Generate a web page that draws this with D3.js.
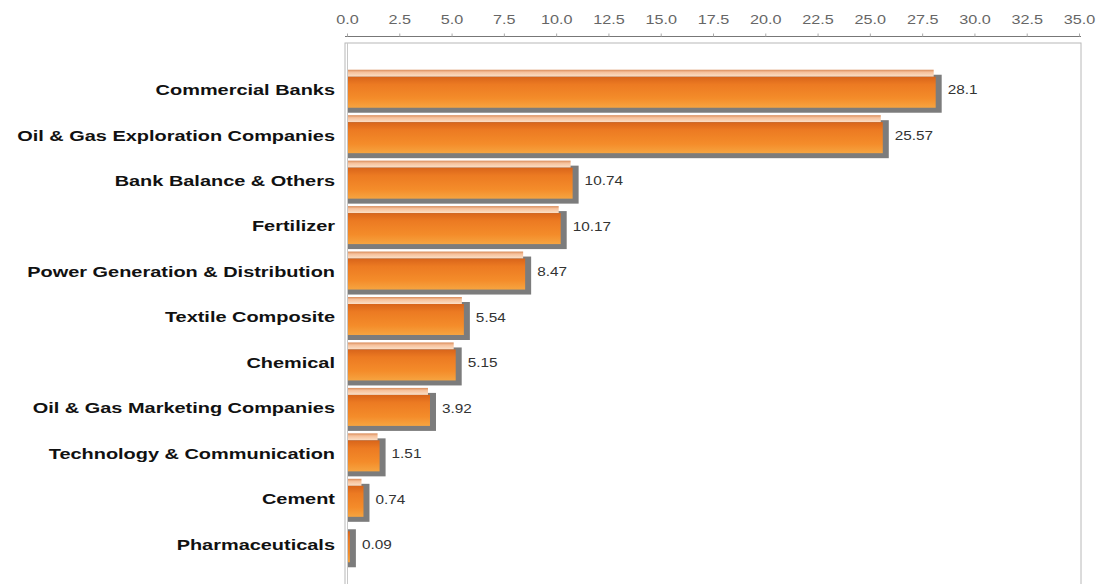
<!DOCTYPE html>
<html><head><meta charset="utf-8">
<script src="https://cdn.jsdelivr.net/npm/d3@7"></script>
<style>html,body{margin:0;padding:0;background:#fff;overflow:hidden}</style>
</head><body>
<svg id="chart" width="1101" height="584"></svg>
<script>
const categories = ["Commercial Banks","Oil & Gas Exploration Companies","Bank Balance & Others","Fertilizer","Power Generation & Distribution","Textile Composite","Chemical","Oil & Gas Marketing Companies","Technology & Communication","Cement","Pharmaceuticals"];
const values = [28.1,25.57,10.74,10.17,8.47,5.54,5.15,3.92,1.51,0.74,0.09];
const valueLabels = ["28.1","25.57","10.74","10.17","8.47","5.54","5.15","3.92","1.51","0.74","0.09"];
const tickValues = [0,2.5,5,7.5,10,12.5,15,17.5,20,22.5,25,27.5,30,32.5,35];

const svg = d3.select("#chart");
const x = d3.scaleLinear().domain([0,35]).range([347,1079]);
const y = d3.scaleBand().domain(categories).range([67,567]);

const defs = svg.append("defs");
const g1 = defs.append("linearGradient").attr("id","barGrad").attr("x1",0).attr("y1",0).attr("x2",0).attr("y2",1);
g1.append("stop").attr("offset","0%").attr("stop-color","#d8641a");
g1.append("stop").attr("offset","25%").attr("stop-color","#ec7a22");
g1.append("stop").attr("offset","70%").attr("stop-color","#f48c2a");
g1.append("stop").attr("offset","100%").attr("stop-color","#f6a440");
const g2 = defs.append("linearGradient").attr("id","topGrad").attr("x1",0).attr("y1",0).attr("x2",0).attr("y2",1);
g2.append("stop").attr("offset","0%").attr("stop-color","#d88a58");
g2.append("stop").attr("offset","35%").attr("stop-color","#f6c09a");
g2.append("stop").attr("offset","100%").attr("stop-color","#fbe0c8");

// plot box
svg.append("rect").attr("x",345).attr("y",43).attr("width",736).attr("height",560)
  .attr("fill","none").attr("stroke","#b8b8b8").attr("stroke-width",1);
svg.append("line").attr("x1",347.5).attr("x2",347.5).attr("y1",43).attr("y2",584).attr("stroke","#c8c8c8");

// top axis
const axis = d3.axisTop(x).tickValues(tickValues).tickFormat(d3.format(".1f")).tickSize(3).tickPadding(0);
const ax = svg.append("g").attr("transform","translate(0,36.5)").call(axis);
ax.select(".domain").attr("stroke","#777").attr("d","M345,0H1081");
ax.selectAll(".tick line").attr("stroke","#aaa");
ax.selectAll(".tick text")
  .attr("y",0).attr("dy",0)
  .attr("transform","translate(0,-13) scale(1.35,1)")
  .attr("fill","#666").attr("font-family","Liberation Sans, Arial, sans-serif")
  .attr("font-size",12);

const rows = svg.append("g").selectAll("g").data(categories).join("g");
const c = d => y(d) + y.bandwidth()/2;

// shadow
rows.append("rect")
  .attr("x", x(0)+1)
  .attr("y", d => c(d) - 15)
  .attr("width", (d,i) => Math.max(0, x(values[i]) - x(0) + 6))
  .attr("height", 38)
  .attr("fill","#7c7c7c");
// top stripe
rows.append("rect")
  .attr("x", x(0)+1)
  .attr("y", d => c(d) - 20)
  .attr("width", (d,i) => Math.max(0, x(values[i]) - x(0) - 2))
  .attr("height", 7)
  .attr("fill","url(#topGrad)");
// main bar
rows.append("rect")
  .attr("x", x(0)+1)
  .attr("y", d => c(d) - 13)
  .attr("width", (d,i) => Math.max(0, x(values[i]) - x(0)))
  .attr("height", 31)
  .attr("fill","url(#barGrad)");

// category labels
rows.append("text")
  .attr("transform", d => `translate(335,${c(d)}) scale(1.33,1)`)
  .attr("dy","0.36em")
  .attr("text-anchor","end")
  .attr("font-family","Liberation Sans, Arial, sans-serif")
  .attr("font-weight","bold")
  .attr("font-size",15)
  .attr("fill","#111")
  .text(d => d);

// value labels
rows.append("text")
  .attr("transform", (d,i) => `translate(${x(values[i]) + 13},${c(d)}) scale(1.18,1)`)
  .attr("dy","0.36em")
  .attr("font-family","Liberation Sans, Arial, sans-serif")
  .attr("font-size",13)
  .attr("fill","#333")
  .text((d,i) => valueLabels[i]);
</script>
</body></html>
